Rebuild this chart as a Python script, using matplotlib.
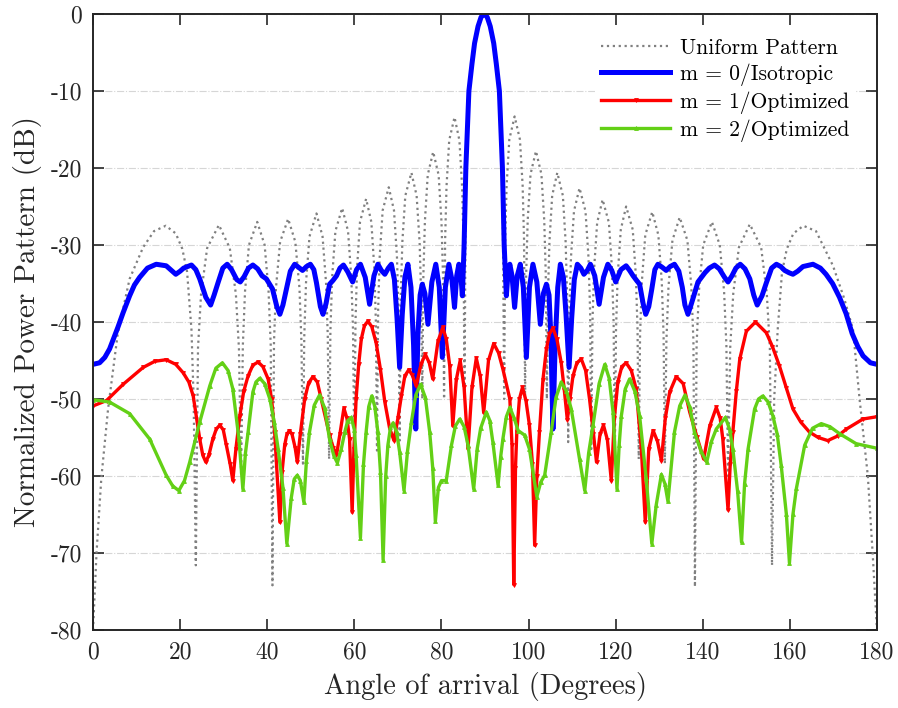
import matplotlib
matplotlib.use("Agg")
import matplotlib.pyplot as plt

plt.rcParams['font.family'] = ['cmr10', 'DejaVu Serif']
plt.rcParams['axes.unicode_minus'] = False

# uniform pattern (dotted gray)
uni_deg = [0, 0.8, 1.9, 3.45, 5.7, 8.4, 11.5, 14.0, 16.7, 19.0, 20.5, 21.6, 22.6, 23.1, 23.6,
           24.1, 24.8, 26.2, 28.9, 31.4, 32.8, 33.5, 34.0,
           34.4, 34.9, 35.8, 37.7, 39.4, 40.3, 40.8, 41.2,
           41.55, 42.0, 42.95, 44.8, 46.45, 47.4, 47.85, 48.2,
           48.5, 48.9, 49.7, 51.3, 52.7, 53.5, 53.9, 54.2,
           54.5, 54.9, 55.65, 57.2, 58.55, 59.3, 59.7, 60.0,
           60.26, 60.62, 61.3, 62.7, 63.9, 64.58, 64.94, 65.2,
           65.46, 65.82, 66.5, 67.9, 69.1, 69.78, 70.14, 70.4,
           70.66, 71.02, 71.7, 73.1, 74.3, 74.98, 75.34, 75.6,
           75.85, 76.2, 76.85, 78.1, 79.35, 80.0, 80.35, 80.6,
           80.84, 81.16, 81.78, 83.0, 84.12, 84.74, 85.06, 85.3,
           85.6, 86.3, 87.0, 87.6, 88.4, 89.1, 89.8, 90.5, 91.2, 92.0, 92.6, 93.3, 94.0, 94.4,
           94.64, 94.96, 95.58, 96.8, 98.02, 98.64, 98.96, 99.2,
           99.45, 99.8, 100.45, 101.7, 102.95, 103.6, 103.95, 104.2,
           104.45, 104.79, 105.42, 106.6, 107.88, 108.51, 108.85, 109.1,
           109.37, 109.74, 110.43, 111.7, 113.07, 113.76, 114.13, 114.4,
           114.67, 115.05, 115.75, 117.0, 118.45, 119.15, 119.53, 119.8,
           120.08, 120.46, 121.18, 122.4, 123.92, 124.64, 125.02, 125.3,
           125.6, 126.02, 126.8, 128.4, 129.8, 130.58, 131.0, 131.3,
           131.65, 132.13, 133.03, 134.7, 136.47, 137.37, 137.85, 138.2,
           138.58, 139.11, 140.1, 142.1, 143.9, 144.89, 145.42, 145.8,
           146.3, 147.0, 148.3, 150.8, 153.4, 154.7, 155.4, 155.9,
           156.4, 157.2, 158.2, 159.3, 160.8, 163.1, 166.0, 169.9, 172.5, 174.5,
           176.0, 177.9, 179.0, 180]
uni_db = [-80, -70, -60.3, -51.3, -41.4, -34.4, -30.3, -28.2, -27.5, -28.5, -30.5, -33.5, -41, -50, -71.6,
          -43.4, -36.4, -30.4, -27.4, -30.4, -36.4, -43.4, -60,
          -43, -36, -30, -27.0, -30, -36, -43, -74.2,
          -42.6, -35.6, -29.6, -26.6, -29.6, -35.6, -42.6, -58.4,
          -41.9, -34.9, -28.9, -25.9, -28.9, -34.9, -41.9, -57.8,
          -41.2, -34.2, -28.2, -25.2, -28.2, -34.2, -41.2, -58,
          -40, -33, -27, -24.0, -27, -33, -40, -56.7,
          -38.5, -31.5, -25.5, -22.5, -25.5, -31.5, -38.5, -55.4,
          -36.6, -29.6, -23.6, -20.6, -23.6, -29.6, -36.6, -50,
          -33.9, -26.9, -20.9, -17.9, -20.9, -26.9, -33.9, -50,
          -29.4, -22.4, -16.4, -13.4, -16.4, -22.4, -29.4, -50,
          -20, -10, -6.5, -3.8, -1.6, -0.4, 0.0, -0.4, -1.6, -3.8, -6.5, -10, -20, -50,
          -29.3, -22.3, -16.3, -13.3, -16.3, -22.3, -29.3, -50,
          -33.8, -26.8, -20.8, -17.8, -20.8, -26.8, -33.8, -50,
          -36.6, -29.6, -23.6, -20.6, -23.6, -29.6, -36.6, -55.6,
          -38.6, -31.6, -25.6, -22.6, -25.6, -31.6, -38.6, -56.5,
          -40.1, -33.1, -27.1, -24.1, -27.1, -33.1, -40.1, -58,
          -41, -34, -28, -25.0, -28, -34, -41, -57.8,
          -41.7, -34.7, -28.7, -25.7, -28.7, -34.7, -41.7, -58.4,
          -42.4, -35.4, -29.4, -26.4, -29.4, -35.4, -42.4, -74.4,
          -43, -36, -30, -27.0, -30, -36, -43, -60,
          -43.3, -36.3, -30.3, -27.3, -30.3, -36.3, -43.3, -71.6,
          -50, -41, -33.5, -30.5, -28.5, -27.5, -28.2, -32.7, -37.0, -41.0,
          -50, -60, -70, -80]

# m = 0 / isotropic (blue)
iso_deg = [0, 1.5, 2.7, 3.8, 5.7, 6.9, 8.4, 9.5, 10.7, 12.5, 14.5, 16.8, 18.0, 19.0, 20.0, 20.8,
           22.6, 23.6, 24.5, 25.9, 27.0, 27.8, 28.7, 29.8, 30.8, 31.8, 33.0, 33.8, 34.7, 35.7,
           36.7, 37.8, 38.8, 39.8, 41.2, 42.2, 42.9, 43.6, 44.4, 45.3, 46.3, 47.2, 48.1, 49.0,
           49.9, 50.7, 51.3, 52.2, 52.8, 53.5, 54.3, 55.1, 55.9, 56.7, 57.5, 58.5, 59.6, 60.5,
           61.4, 62.5, 63.5, 64.5, 65.4, 66.2, 67.0, 67.8, 68.5, 69.2, 69.8, 70.4, 71.0, 71.6,
           72.3, 73.0, 73.6, 74.1, 74.6, 75.1, 75.6, 76.2, 76.9, 77.8, 78.7, 79.5, 80.2, 80.9,
           81.7, 82.4, 83.0, 83.5, 84.0, 84.4, 84.8, 85.2, 85.6, 86.3, 87.0, 87.6, 88.4, 89.1,
           89.8, 90.5, 91.2, 92.0, 92.6, 93.3, 94.0, 94.4, 94.9, 95.3, 95.7, 96.2, 96.8, 97.4,
           98.1, 98.8, 99.5, 100.2, 101.0, 101.9, 102.7, 103.4, 104.1, 104.7, 105.1, 105.6,
           106.1, 106.7, 107.3, 108.0, 108.6, 109.3, 109.9, 110.5, 111.2, 112.0, 112.7, 113.5,
           114.2, 115.2, 116.2, 117.2, 118.2, 119.1, 120.0, 121.2, 122.4, 123.2, 124.0, 124.8,
           125.5, 126.3, 126.9, 127.6, 128.3, 129.0, 129.7, 130.7, 131.6, 132.5, 133.5, 134.5,
           135.3, 135.9, 136.6, 137.4, 138.9, 140.5, 141.5, 142.7, 143.8, 145.0, 145.8, 146.7,
           147.6, 148.6, 149.7, 150.8, 151.7, 152.5, 153.6, 154.6, 155.8, 156.9, 157.9, 158.8,
           159.8, 160.7, 161.8, 163.0, 165.3, 167.0, 168.3, 169.8, 171.4, 172.9, 174.3, 175.6,
           176.8, 178.5, 180]
iso_db = [-45.5, -45.3, -44.6, -43.5, -40.7, -38.8, -36.6, -35.2, -34.2, -33.0, -32.5, -32.7, -33.3, -33.8, -33.4, -33.0,
          -32.6, -33.2, -34.4, -36.8, -37.8, -36.5, -34.9, -33.0, -32.5, -33.2, -34.5, -34.8, -34.1, -33.0,
          -32.6, -33.1, -34.0, -34.4, -35.7, -38.0, -39.0, -37.8, -35.7, -33.4, -32.5, -32.9, -33.3, -32.8,
          -32.5, -33.2, -34.9, -38.0, -39.0, -37.6, -35.1, -34.6, -34.0, -33.0, -32.6, -33.5, -34.8, -33.2,
          -32.5, -34.2, -37.7, -34.0, -32.5, -33.3, -33.8, -33.0, -32.5, -34.5, -39.5, -45.9, -39.0, -34.2,
          -32.5, -35.5, -43.0, -53.9, -41.5, -36.5, -35.1, -36.3, -40.3, -34.8, -32.5, -35.5, -44.6, -35.5,
          -32.5, -34.5, -38.1, -34.0, -32.5, -33.5, -36.6, -30.0, -20.0, -10.0, -6.5, -3.8, -1.6, -0.4,
          0.0, -0.4, -1.6, -3.8, -6.5, -10.0, -20.0, -30.0, -36.6, -33.5, -32.5, -34.0, -38.1, -34.0,
          -32.5, -35.5, -44.6, -35.5, -32.5, -34.8, -40.3, -36.3, -35.1, -36.5, -41.5, -53.9,
          -43.0, -35.5, -32.5, -34.2, -39.0, -45.9, -39.5, -34.5, -32.5, -33.0, -33.8, -33.3,
          -32.5, -34.0, -37.7, -34.2, -32.5, -33.3, -34.8, -33.2, -32.7, -33.3, -34.0, -34.6,
          -35.1, -37.6, -39.0, -38.0, -35.7, -33.2, -32.5, -32.9, -33.3, -32.8, -32.5, -33.4,
          -35.5, -37.8, -39.0, -37.6, -34.8, -33.6, -33.0, -32.6, -33.1, -34.2, -34.8, -34.0,
          -33.0, -32.5, -33.1, -34.4, -36.5, -37.8, -36.6, -34.9, -33.0, -32.5, -32.8, -33.3,
          -33.6, -33.8, -33.4, -32.8, -32.5, -33.0, -33.8, -35.0, -36.8, -38.9, -41.5, -43.2,
          -44.4, -45.3, -45.5]

# m = 1 / optimized (red)
m1_deg = [0, 3.1, 6.9, 11.5, 14.2, 16.8, 19.0, 20.7, 22.0, 23.0, 24.5, 25.2, 25.9, 26.6, 27.5,
          28.3, 29.1, 29.9, 30.6, 31.5, 32.1, 32.8, 33.7, 34.6, 35.6, 36.7, 37.9, 39.0, 40.2,
          41.0, 41.7, 42.9, 43.4, 44.0, 44.5, 45.1, 45.7, 46.4, 46.9, 47.6, 48.6, 49.5, 50.5,
          51.5, 52.4, 53.4, 54.3, 55.2, 55.9, 56.7, 57.6, 58.3, 58.9, 59.5, 59.9, 60.4, 61.0,
          61.6, 62.3, 63.1, 64.0, 65.0, 66.0, 67.0, 68.1, 69.1, 70.0, 70.8, 71.6, 72.5, 73.3,
          74.2, 75.3, 76.3, 77.2, 78.0, 79.2, 80.3, 81.1, 81.9, 82.6, 83.4, 84.3, 85.2, 86.1,
          87.0, 88.0, 88.9, 89.7, 90.8, 92.0, 93.1, 94.1, 95.7, 96.2, 96.6, 97.0, 97.3, 97.9,
          98.6, 99.4, 100.2, 100.9, 101.4, 101.9, 102.5, 103.3, 104.1, 104.8, 105.6, 106.5,
          107.5, 108.2, 108.9, 109.5, 110.2, 111.1, 112.1, 113.1, 114.0, 114.9, 115.6, 116.4,
          117.2, 118.1, 119.0, 119.7, 120.5, 121.4, 122.4, 123.6, 124.7, 125.9, 126.8, 127.6,
          128.6, 129.6, 130.5, 131.4, 132.4, 133.9, 135.5, 137.0, 138.7, 140.2, 141.6, 143.1,
          144.0, 144.6, 145.8, 146.3, 146.9, 147.7, 148.5, 150.0, 152.1, 154.6, 156.0, 157.6,
          159.2, 160.7, 162.5, 164.5, 166.5, 168.7, 171.0, 173.0, 176.8, 180]
m1_db = [-50.9, -50.2, -48.1, -45.9, -45.1, -44.9, -45.5, -46.6, -47.8, -49.6, -55.2, -57.3, -58.2, -57.3, -55.2,
         -53.9, -53.4, -54.0, -56.0, -58.5, -60.6, -56.5, -52.2, -49.0, -47.0, -45.6, -45.2, -45.8, -47.4,
         -50.0, -54.3, -66.0, -59.5, -56.0, -54.6, -54.1, -54.6, -56.3, -58.2, -54.5, -50.0, -47.9, -47.1,
         -47.8, -50.0, -52.5, -54.7, -56.4, -57.3, -54.5, -51.2, -52.5, -55.2, -64.7, -56.5, -50.0, -45.5,
         -42.2, -40.5, -39.9, -40.6, -42.7, -46.2, -50.4, -53.8, -55.4, -52.5, -49.6, -47.0, -46.2, -46.9,
         -48.3, -45.5, -44.2, -45.3, -47.4, -42.5, -40.7, -42.2, -45.7, -53.5, -47.5, -45.0, -48.5, -56.5,
         -48.5, -44.7, -47.0, -51.8, -45.0, -42.8, -44.0, -46.1, -50.0, -56.0, -74.1, -59.0, -54.3, -50.0,
         -48.5, -50.2, -53.4, -58.5, -69.0, -60.0, -54.3, -47.5, -43.5, -41.5, -40.8, -42.2,
         -45.3, -48.8, -52.7, -50.0, -47.0, -45.3, -44.8, -46.3, -50.0, -54.5, -58.2, -54.6,
         -53.4, -55.3, -60.6, -52.5, -47.8, -45.8, -45.3, -46.3, -48.7, -56.5, -66.0, -56.5,
         -54.1, -55.5, -58.0, -52.5, -49.1, -47.1, -48.0, -51.7, -55.0, -57.8, -53.5, -51.1,
         -52.5, -55.2, -64.4, -58.5, -54.3, -49.0, -44.8, -41.2, -40.0, -41.4, -43.2, -45.7,
         -48.6, -51.3, -53.0, -54.3, -55.0, -55.4, -54.8, -53.9, -52.6, -52.3]

# m = 2 / optimized (green)
m2_deg = [0, 3.8, 8.4, 13.0, 16.8, 18.3, 19.7, 21.0, 22.2, 24.5, 26.8, 28.2, 29.7, 31.0, 32.1,
          33.5, 34.4, 35.0, 35.6, 36.7, 37.4, 38.3, 39.4, 40.6, 41.6, 42.5, 43.6, 44.5, 45.5,
          46.2, 46.9, 47.6, 48.4, 49.0, 49.7, 50.8, 52.0, 53.2, 54.3, 55.3, 56.1, 57.0, 57.8,
          58.5, 59.3, 60.0, 60.4, 61.4, 62.1, 62.7, 63.3, 64.0, 64.7, 65.4, 66.0, 66.6, 67.2,
          67.7, 68.3, 68.9, 69.7, 70.4, 71.4, 72.2, 73.1, 74.1, 75.2, 76.3, 77.3, 78.0, 78.6,
          79.3, 80.0, 81.1, 82.3, 83.2, 84.2, 85.2, 86.1, 87.4, 88.2, 89.0, 90.3, 91.1, 91.8,
          93.0, 93.6, 94.1, 94.9, 95.7, 96.7, 97.6, 99.1, 100.2, 101.9, 102.8, 103.7, 105.2,
          106.3, 107.5, 108.7, 109.8, 111.7, 112.9, 113.8, 114.8, 116.2, 117.5, 118.5, 119.4,
          120.3, 120.8, 121.3, 122.2, 123.2, 124.4, 125.5, 127.0, 128.3, 129.3, 130.5, 131.3,
          132.0, 133.5, 134.7, 135.9, 137.0, 138.1, 139.6, 140.9, 142.0, 143.1, 145.2, 146.2,
          146.9, 148.0, 148.9, 149.6, 150.4, 151.9, 152.8, 153.8, 155.0, 156.1, 157.1, 158.0,
          159.2, 159.9, 160.7, 161.5, 163.4, 165.2, 167.2, 169.2, 171.4, 175.2, 180]
m2_db = [-50.1, -50.4, -51.9, -55.2, -59.9, -61.3, -61.9, -60.6, -58.2, -53.0, -48.3, -46.0, -45.3, -46.3, -48.7,
         -55.2, -61.7, -57.0, -54.3, -49.1, -47.8, -47.3, -48.0, -50.0, -53.0, -56.5, -61.5, -68.8, -62.9,
         -60.4, -59.9, -60.6, -63.4, -58.0, -54.3, -50.8, -49.5, -51.2, -55.2, -57.4, -58.3, -56.5, -54.3,
         -52.8, -52.4, -54.0, -57.3, -68.0, -58.5, -54.3, -51.0, -49.6, -51.0, -54.3, -59.5, -70.9, -60.0,
         -56.0, -53.7, -53.1, -54.3, -56.9, -61.9, -56.8, -53.0, -49.5, -48.1, -49.8, -54.3, -59.0, -65.9,
         -61.5, -60.6, -60.6, -56.0, -53.5, -52.6, -53.6, -56.0, -61.7, -56.5, -53.8, -51.7, -52.8, -55.6,
         -61.2, -57.5, -55.2, -52.3, -51.1, -52.5, -54.1, -54.7, -56.5, -62.7, -60.8, -59.9, -54.3,
         -49.8, -47.8, -49.0, -51.3, -57.8, -61.9, -57.0, -53.4, -48.0, -45.5, -47.3, -51.7,
         -61.7, -56.0, -52.2, -48.7, -47.4, -49.0, -52.2, -60.3, -68.8, -63.8, -59.8, -61.0,
         -63.3, -54.3, -50.9, -49.5, -51.0, -54.3, -56.8, -58.2, -55.5, -53.9, -52.4, -54.0,
         -56.5, -62.0, -68.6, -61.0, -56.5, -51.3, -50.0, -49.6, -50.4, -52.2, -54.6, -58.6,
         -65.0, -71.3, -65.0, -61.6, -56.0, -53.8, -53.2, -53.6, -54.5, -55.8, -56.4]

labels = ['Uniform Pattern', 'm = 0/Isotropic', 'm = 1/Optimized', 'm = 2/Optimized']

fig = plt.figure(figsize=(8.98, 7.08), dpi=100)
ax = fig.add_axes([0.1036, 0.1102, 0.8730, 0.8700])

ax.plot(uni_deg, uni_db, ':', color='#808080', lw=1.6, label=labels[0])
ax.plot(iso_deg, iso_db, '-', color='#0000ff', lw=3.6, solid_joinstyle='round', label=labels[1])
ax.plot(m1_deg, m1_db, '-', color='#ff0000', lw=2.4, marker='v', ms=2.8, mew=0.6,
        solid_joinstyle='round', label=labels[2])
ax.plot(m2_deg, m2_db, '-', color='#63d016', lw=2.4, marker='^', ms=2.8, mew=0.6,
        solid_joinstyle='round', label=labels[3])

ax.set_xlim(0, 180)
ax.set_ylim(-80, 0)
xt = list(range(0, 181, 20))
yt = list(range(-80, 1, 10))
ax.set_xticks(xt)
ax.set_xticklabels([str(v) for v in xt])
ax.set_yticks(yt)
ax.set_yticklabels([str(v) for v in yt])
ax.tick_params(direction='in', length=8, width=1.2, top=True, right=True, labelsize=17,
               pad=8, colors='#262626')
for s in ax.spines.values():
    s.set_linewidth(1.4)
    s.set_color('#262626')
ax.yaxis.grid(True, linestyle='-.', color='#d6d6d6', lw=0.8)
ax.set_axisbelow(True)

ax.set_xlabel('Angle of arrival (Degrees)', fontsize=20.5, color='#262626', labelpad=6)
ax.set_ylabel('Normalized Power Pattern (dB)', fontsize=21, color='#262626', labelpad=6)

leg = ax.legend(loc='upper left', bbox_to_anchor=(595 / 898, 1 - 32 / 708),
                bbox_transform=fig.transFigure, fontsize=15.5, numpoints=1,
                handlelength=3.2, handletextpad=0.45, labelspacing=0.25,
                borderpad=0.3, borderaxespad=0, frameon=True, fancybox=False)
leg.get_frame().set_edgecolor('none')
leg.get_frame().set_facecolor('white')
leg.get_frame().set_alpha(1)

fig.savefig('out.png', dpi=100)
